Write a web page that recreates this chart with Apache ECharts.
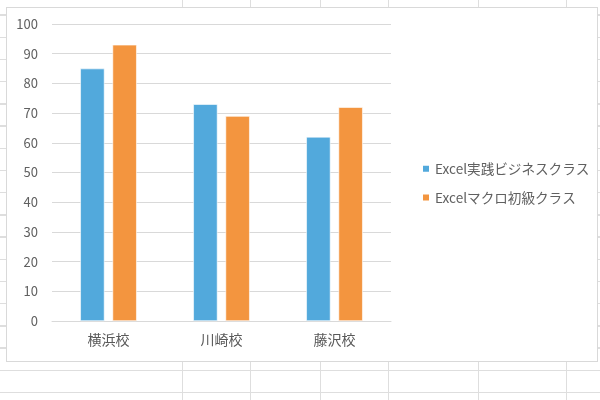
<!DOCTYPE html>
<html>
<head>
<meta charset="utf-8">
<script src="https://cdn.jsdelivr.net/npm/echarts@6/dist/echarts.min.js"></script>
<style>
  html, body { margin: 0; padding: 0; width: 600px; height: 400px; overflow: hidden; background: #ffffff; }
  #sheet {
    position: absolute; left: 0; top: 0; width: 600px; height: 400px;
    background-image: repeating-linear-gradient(to bottom, transparent 0px, transparent 14.4px, #dedede 14.4px, #dedede 15.8px, transparent 15.8px, transparent 22.2px);
  }
  .col { position: absolute; top: 0; width: 1.4px; height: 400px; background: #dedede; }
  #box {
    position: absolute; left: 6px; top: 7px; width: 590px; height: 353px;
    background: #ffffff; border: 1px solid #d9d9d9;
  }
  #chart { position: absolute; left: 0; top: 0; width: 600px; height: 400px; }
</style>
</head>
<body>
<div id="sheet"></div>
<div class="col" style="left:182px"></div>
<div class="col" style="left:250px"></div>
<div class="col" style="left:320px"></div>
<div class="col" style="left:388px"></div>
<div class="col" style="left:478px"></div>
<div class="col" style="left:566px"></div>
<div id="box"></div>
<div id="chart"></div>
<script>
const categories = ['横浜校', '川崎校', '藤沢校'];
const seriesNames = ['Excel実践ビジネスクラス', 'Excelマクロ初級クラス'];
const practicalBusiness = [85, 73, 62];
const macroBeginner = [93, 69, 72];

const font = '"Noto Sans CJK JP", "Noto Sans", sans-serif';
const chart = echarts.init(document.getElementById('chart'), null, { renderer: 'canvas' });
chart.setOption({
  backgroundColor: 'transparent',
  animation: false,
  textStyle: { fontFamily: font },
  grid: { left: 52, right: 209, top: 24, bottom: 79, containLabel: false },
  legend: {
    orient: 'vertical',
    left: 416,
    top: 157,
    itemWidth: 8,
    itemHeight: 8,
    itemGap: 15,
    icon: 'rect',
    textStyle: { color: '#606060', fontSize: 13.6, fontFamily: font },
    data: seriesNames
  },
  xAxis: {
    type: 'category',
    data: categories,
    axisLine: { lineStyle: { color: '#d9d9d9', width: 1 } },
    axisTick: { show: false },
    axisLabel: { color: '#595959', fontSize: 14, margin: 12, fontFamily: font }
  },
  yAxis: {
    type: 'value',
    min: 0,
    max: 100,
    interval: 10,
    axisLine: { show: false },
    axisTick: { show: false },
    splitLine: { lineStyle: { color: '#d9d9d9', width: 1 } },
    axisLabel: { color: '#606060', fontSize: 13, margin: 14, fontFamily: font }
  },
  series: [
    {
      name: seriesNames[0],
      type: 'bar',
      data: practicalBusiness,
      barGap: '33%',
      barCategoryGap: '50%',
      itemStyle: { color: '#52a9dc', borderColor: '#ffffff', borderWidth: 0.6 }
    },
    {
      name: seriesNames[1],
      type: 'bar',
      data: macroBeginner,
      barGap: '33%',
      barCategoryGap: '50%',
      itemStyle: { color: '#f3953f', borderColor: '#ffffff', borderWidth: 0.6 }
    }
  ]
});
</script>
</body>
</html>
